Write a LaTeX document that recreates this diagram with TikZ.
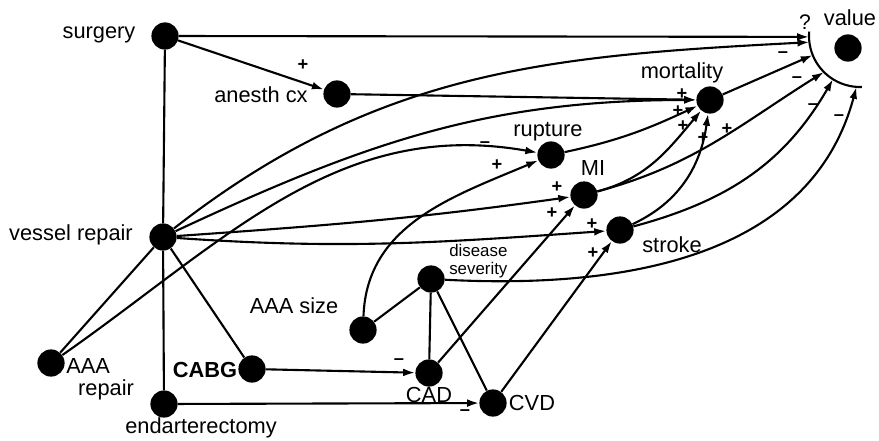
\documentclass[tikz,border=0pt]{standalone}
\usepackage{fontspec}
\setmainfont{Liberation Sans}
\usetikzlibrary{arrows.meta}

\begin{document}
\begin{tikzpicture}[x=0.025cm, y=0.025cm,
    dot/.style={circle, fill=black, minimum size=0.68cm, inner sep=0pt},
    lbl/.style={inner sep=0pt, font=\fontsize{15.5}{15.6}\selectfont},
    small/.style={inner sep=0pt, align=left, font=\fontsize{12}{12.8}\selectfont},
    sgn/.style={inner sep=0pt, font=\fontsize{13}{13}\selectfont\bfseries},
    link/.style={line width=1.5pt},
    infl/.style={link, -{Latex[length=8.5pt,width=5.5pt]}}
  ]
  \useasboundingbox (0,0) rectangle (879,-440);

  % decision and chance nodes
  \node[dot] (surg) at (165,-36)  {};
  \node[dot] (anes) at (337,-94)  {};
  \node[dot] (vess) at (163,-237) {};
  \node[dot] (aaar) at (51,-363)  {};
  \node[dot] (cabg) at (252,-369) {};
  \node[dot] (endo) at (164,-404) {};
  \node[dot] (size) at (363,-330) {};
  \node[dot] (sev)  at (431,-279) {};
  \node[dot] (cad)  at (429,-373) {};
  \node[dot] (cvd)  at (493,-403) {};
  \node[dot] (rupt) at (551,-155) {};
  \node[dot] (mi)   at (584,-195) {};
  \node[dot] (strk) at (620,-230) {};
  \node[dot] (mort) at (710,-100) {};
  \node[dot] (val)  at (848,-48)  {};

  % names
  \node[lbl] (surg-t) at (99,-35)   {surgery};
  \node[lbl] (anes-t) at (261,-95)  {anesth cx};
  \node[lbl] (vess-t) at (71,-235)  {vessel repair};
  \node[lbl, align=left, anchor=west] (aaar-t) at (66,-379) {AAA\\\hspace*{8.5pt}repair};
  \node[lbl, font=\fontsize{15.5}{15.6}\selectfont\bfseries] (cabg-t) at (205,-370) {CABG};
  \node[lbl] (endo-t) at (201,-428) {endarterectomy};
  \node[lbl] (size-t) at (294,-306) {AAA size};
  \node[small, anchor=west] (sev-t) at (449,-261) {disease\\severity};
  \node[lbl] (cad-t)  at (429,-395) {CAD};
  \node[lbl] (cvd-t)  at (532,-403) {CVD};
  \node[lbl] (rupt-t) at (548,-132) {rupture};
  \node[lbl] (mi-t)   at (593,-168) {MI};
  \node[lbl] (strk-t) at (672,-245) {stroke};
  \node[lbl] (mort-t) at (682,-73)  {mortality};
  \node[lbl] (val-t)  at (850,-18)  {value};

  % value node rim and arrow ends on it
  \coordinate (vc) at (860,-36);
  \draw[link] (vc) ++(175:51) arc[start angle=175, end angle=272, radius=51];
  \path (vc) ++(181:51) coordinate (vsur);
  \path (vc) ++(187:51) coordinate (vves);
  \path (vc) ++(202:51) coordinate (vmor);
  \path (vc) ++(225:51) coordinate (vmi);
  \path (vc) ++(238:51) coordinate (vstr);
  \path (vc) ++(266:51) coordinate (vsev);

  % plain links
  \draw[link] (surg) -- (vess) -- (endo);
  \draw[link] (vess) -- (aaar);
  \draw[link] (vess) -- (cabg);
  \draw[link] (size) -- (sev);
  \draw[link] (sev) -- (cad);
  \draw[link] (sev) -- (cvd);

  % influences
  \draw[infl] (surg) -- (vsur) node[sgn, font=\fontsize{15}{15}\selectfont] at (805,-22) {?};
  \draw[infl] (surg) -- (anes) node[sgn] at (303,-65) {+};
  \draw[infl] (anes) -- (mort) node[sgn] at (682,-94) {+};
  \draw[infl] (vess) to[out=38,in=183] (vves);
  \draw[infl] (vess) to[out=25,in=180] (mort) node[sgn] at (678,-111) {+};
  \draw[infl] (vess) to[out=4,in=188] (mi) node[sgn] at (557,-187) {+};
  \draw[infl] (vess) to[out=-4,in=184] (strk) node[sgn] at (592,-224) {+};
  \draw[infl] (aaar) to[out=35,in=170] (rupt) node[sgn] at (485,-145) {--};
  \draw[infl] (size) to[out=88,in=203] (rupt) node[sgn] at (497,-165) {+};
  \draw[infl] (cabg) -- (cad) node[sgn] at (399,-362) {--};
  \draw[infl] (endo) -- (cvd) node[sgn] at (465,-413) {--};
  \draw[infl] (cad) -- (mi) node[sgn] at (552,-213) {+};
  \draw[infl] (cvd) -- (strk) node[sgn] at (593,-253) {+};
  \draw[infl] (rupt) to[out=12,in=205] (mort) node[sgn] at (683,-126) {+};
  \draw[infl] (mi) to[out=15,in=230] (mort) node[sgn] at (703,-138) {+};
  \draw[infl] (strk) to[out=25,in=262] (mort) node[sgn] at (727,-129) {+};
  \draw[infl] (mort) -- (vmor) node[sgn] at (783,-55) {--};
  \draw[infl] (mi) to[out=15,in=212] (vmi) node[sgn] at (797,-80) {--};
  \draw[infl] (strk) to[out=15,in=240] (vstr) node[sgn] at (813,-107) {--};
  \draw[infl] (sev) to[out=-3,in=255] (vsev) node[sgn] at (839,-118) {--};
\end{tikzpicture}
\end{document}
